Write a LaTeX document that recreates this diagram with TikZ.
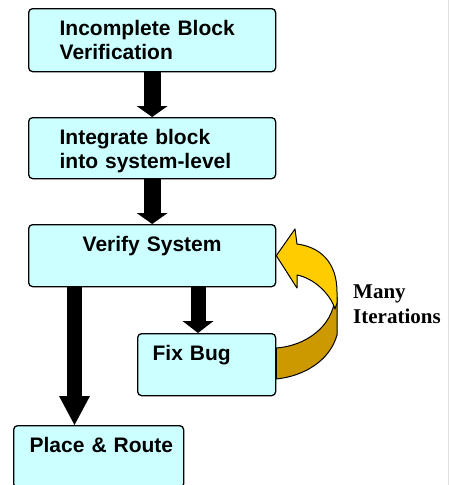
\documentclass[tikz,border=0pt]{standalone}
\usepackage{fontspec}
\newfontfamily\boxfont{Liberation Sans}
\newfontfamily\notefont{Liberation Serif}
\usetikzlibrary{arrows.meta,calc,backgrounds}
\definecolor{boxcyan}{RGB}{204,255,255}
\definecolor{loopgold}{RGB}{255,204,0}
\definecolor{loopshade}{RGB}{204,153,0}

\begin{document}
\begin{tikzpicture}[x=1pt,y=-1pt,
  stage/.style={draw,line width=1.3pt,fill=boxcyan,rounded corners=4pt,anchor=north west,align=left,inner ysep=0pt,text height=27pt,font=\boxfont\bfseries\fontsize{21}{23.5}\selectfont},
  bigarrow/.style n args={2}{line width=#1,-{Triangle[length=#2,width=31pt,line width=0pt]}},
  ribbon/.style={line width=1pt,line join=round,fill=#1}]
\useasboundingbox (0,0) rectangle (449,485);
\draw[black!12,line width=1pt] (448.5,0) -- (448.5,485);
% flow boxes
\node[stage,inner xsep=31pt,text width=185pt,text depth=36pt] (inc) at (28,8) {Incomplete Block\\Verification};
\node[stage,inner xsep=31pt,text width=185pt,text depth=34pt] (integ) at (28,117) {Integrate block\\into system-level};
\node[stage,align=center,inner xsep=20pt,text width=207pt,text depth=35pt] (ver) at (28,224) {Verify System};
\node[stage,inner xsep=15pt,text width=108pt,text depth=35pt] (fix) at (137,333) {Fix Bug};
\node[stage,inner xsep=16pt,text width=138pt,text depth=35pt] (pr) at (13,425) {Place~\&~Route};
% block arrows
\begin{scope}[on background layer]
\draw[bigarrow={17pt}{11pt}] (inc.south) -- (integ.north);
\draw[bigarrow={17pt}{11pt}] (integ.south) -- (ver.north);
\draw[bigarrow={15pt}{29pt}] ([xshift=46.5pt]ver.south west) -- ([xshift=61.5pt]pr.north west);
\draw[bigarrow={15pt}{12pt}] ([xshift=170pt]ver.south west) -- ([xshift=61pt]fix.north west);
\end{scope}
% twisted loop arrow, back face then front face
\filldraw[ribbon=loopshade] ($(fix.north east)+(0,15)$) .. controls (305,346) and (333,327) .. (335,297) -- (337,297) -- (337,335) .. controls (330,360) and (305,376) .. ($(fix.north east)+(0,46)$) -- cycle;
\filldraw[ribbon=loopgold] (ver.east) -- (295,229) -- (297,244) .. controls (320,247) and (337,262) .. (337,292) -- (337,303) -- (335,309) .. controls (330,293) and (313,278) .. (297,275) -- (297,288) -- cycle;
\node[anchor=north west,inner sep=0pt,text width=95pt,align=left,text height=14pt,font=\notefont\bfseries\fontsize{21}{25}\selectfont] (note) at (353,284) {Many\\Iterations};
\end{tikzpicture}
\end{document}
